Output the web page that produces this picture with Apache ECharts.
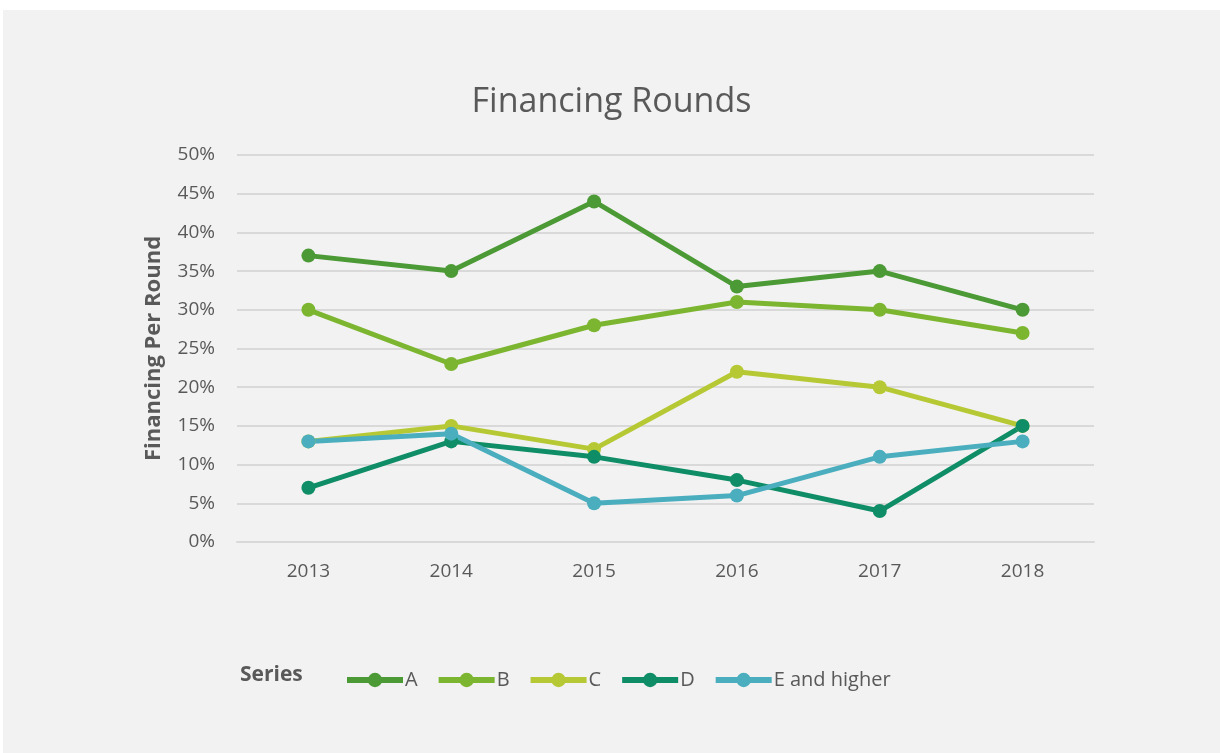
<!DOCTYPE html>
<html>
<head>
    <meta charset="utf-8">
    <title>Financing Rounds</title>
    <script src="https://cdn.jsdelivr.net/npm/echarts@6/dist/echarts.min.js"></script>
    <style>
        body {margin: 0; background: #fff;}
        #main {position: absolute; left: 3px; top: 10px; width: 1217px; height: 743px;}
    </style>
</head>
<body>
<div id="main"></div>
<script type="text/javascript">
    var years = ['2013', '2014', '2015', '2016', '2017', '2018'];
    var seriesNames = ['A', 'B', 'C', 'D', 'E and higher'];
    var valuesA = [37, 35, 44, 33, 35, 30];
    var valuesB = [30, 23, 28, 31, 30, 27];
    var valuesC = [13, 15, 12, 22, 20, 15];
    var valuesD = [7, 13, 11, 8, 4, 15];
    var valuesE = [13, 14, 5, 6, 11, 13];

    var colors = ['#4c9a36', '#7cb52f', '#b6c935', '#0f8d66', '#4aaebe'];
    var allValues = [valuesA, valuesB, valuesC, valuesD, valuesE];
    var font = '"Open Sans", sans-serif';

    var chart = echarts.init(document.getElementById('main'));

    var series = [];
    for (var i = 0; i < seriesNames.length; i++) {
        series.push({
            name: seriesNames[i],
            type: 'line',
            data: allValues[i],
            symbol: 'circle',
            symbolSize: 14,
            lineStyle: {width: 5, color: colors[i]},
            itemStyle: {color: colors[i]}
        });
    }

    var option = {
        backgroundColor: '#f2f2f2',
        animation: false,
        title: {
            text: 'Financing Rounds',
            left: 'center',
            top: 70,
            textStyle: {fontFamily: font, fontSize: 34, fontWeight: 'normal', color: '#595959'}
        },
        legend: {
            left: 336,
            top: 655,
            itemWidth: 56,
            itemHeight: 18,
            itemGap: 18,
            lineStyle: {width: 6},
            textStyle: {fontFamily: font, fontSize: 20, color: '#595959', padding: [0, 0, 0, -3]},
            data: seriesNames
        },
        graphic: [{
            type: 'text',
            left: 237,
            top: 655,
            style: {text: 'Series', font: 'bold 21px "Open Sans", sans-serif', fill: '#595959'}
        }],
        grid: {left: 234, right: 126, top: 145, bottom: 211},
        xAxis: {
            type: 'category',
            data: years,
            boundaryGap: true,
            axisLine: {lineStyle: {color: '#d9d9d9', width: 2}},
            axisTick: {show: false},
            axisLabel: {fontFamily: font, fontSize: 19, color: '#595959', margin: 20}
        },
        yAxis: {
            type: 'value',
            min: 0,
            max: 50,
            interval: 5,
            name: 'Financing Per Round',
            nameLocation: 'middle',
            nameGap: 72,
            nameTextStyle: {fontFamily: font, fontSize: 22, fontWeight: 'bold', color: '#595959'},
            axisLine: {show: false},
            axisTick: {show: false},
            splitLine: {lineStyle: {color: '#d9d9d9', width: 2}},
            axisLabel: {fontFamily: font, fontSize: 19, color: '#595959', margin: 22, formatter: '{value}%'}
        },
        series: series
    };
    chart.setOption(option);
</script>
</body>
</html>
